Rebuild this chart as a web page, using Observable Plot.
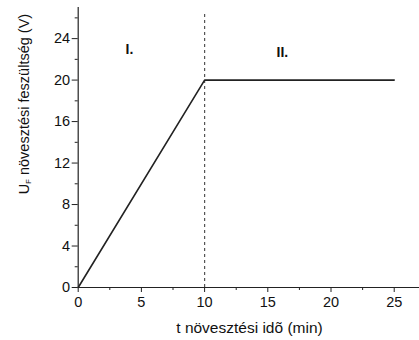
<!DOCTYPE html>
<html>
<head>
<meta charset="utf-8">
<script src="https://cdn.jsdelivr.net/npm/d3@7"></script>
<script src="https://cdn.jsdelivr.net/npm/@observablehq/plot@0.6"></script>
<style>
  html, body { margin: 0; padding: 0; background: #fff; }
  svg { font-family: "Liberation Sans", Arial, sans-serif; }
</style>
</head>
<body>
<div id="chart"></div>
<script>
// Data
const timeMin = [0, 10, 25];
const voltage = [0, 20, 20];
const xTicks = [0, 5, 10, 15, 20, 25];
const xMinor = [2.5, 7.5, 12.5, 17.5, 22.5];
const yTicks = [0, 4, 8, 12, 16, 20, 24];
const yMinor = [2, 6, 10, 14, 18, 22, 26];
const boundaryT = [10];
const regionNames = ["I.", "II."];
const regionT = [4.05, 16.15];
const regionU = [22.95, 22.7];
const xLabel = "t növesztési idõ (min)";
const yLabelMain = "U";
const yLabelSub = "F";
const yLabelRest = " növesztési feszültség (V)";

const series = timeMin.map((t, i) => ({t, u: voltage[i]}));
const regions = regionNames.map((n, i) => ({n, t: regionT[i], u: regionU[i]}));

const chart = Plot.plot({
  width: 419,
  height: 340,
  marginLeft: 77.7,
  marginRight: 0,
  marginTop: 7,
  marginBottom: 53,
  style: {fontFamily: '"Liberation Sans", Arial, sans-serif', fontSize: "14px", color: "#111"},
  x: {domain: [0, 27]},
  y: {domain: [0, 27]},
  marks: [
    Plot.ruleX(boundaryT, {y1: 0, y2: 26.6, stroke: "#555", strokeWidth: 1.2, strokeDasharray: "3,3"}),
    Plot.line(series, {x: "t", y: "u", stroke: "#222", strokeWidth: 1.6}),
    Plot.axisX(xTicks, {tickSize: 5, tickPadding: 4, fontSize: 14.5, stroke: "#222", fill: "#111", label: null}),
    Plot.axisX(xMinor, {tickSize: 3, tickFormat: () => "", stroke: "#222", label: null}),
    Plot.axisY(yTicks, {tickSize: 6, tickPadding: 2, fontSize: 14.5, stroke: "#222", fill: "#111", label: null}),
    Plot.axisY(yMinor, {tickSize: 3, tickFormat: () => "", stroke: "#222", label: null}),
    Plot.ruleX([0], {stroke: "#222", strokeWidth: 1.2}),
    Plot.ruleY([0], {stroke: "#222", strokeWidth: 1.2}),
    Plot.text(regions, {x: "t", y: "u", text: "n", fontWeight: "bold", fontSize: 14, fill: "#111"}),
    Plot.text([xLabel], {x: 13.55, y: 0, dy: 41, text: d => d, fontSize: 15.5, fill: "#111", lineAnchor: "middle"})
  ]
});

document.getElementById("chart").appendChild(chart);

// y-axis label with subscript
const svg = d3.select(chart);
const yl = svg.append("text")
  .attr("transform", "translate(25,104) rotate(-90)")
  .attr("text-anchor", "middle")
  .attr("dominant-baseline", "middle")
  .attr("fill", "#111")
  .style("font-size", "14.5px");
yl.append("tspan").text(yLabelMain);
yl.append("tspan").attr("font-size", "7.5px").attr("dy", "4").text(yLabelSub);
yl.append("tspan").attr("dy", "-4").text(yLabelRest);
</script>
</body>
</html>
